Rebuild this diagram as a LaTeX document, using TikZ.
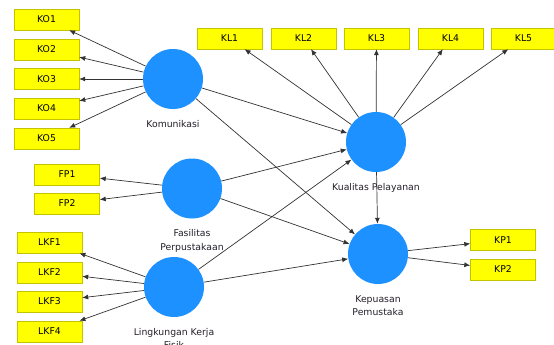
\documentclass[tikz,border=0pt]{standalone}
\usepackage{fontspec}
\setmainfont{DejaVu Sans}
\usetikzlibrary{arrows.meta}

\definecolor{biru}{RGB}{28,145,255}
\definecolor{kuning}{RGB}{255,255,0}
\definecolor{kuningtua}{RGB}{195,195,0}
\definecolor{garis}{RGB}{50,50,50}
\definecolor{teks}{RGB}{35,30,40}

\tikzset{
  laten/.style={circle,fill=biru,minimum size=60pt,inner sep=0pt},
  indikator/.style={rectangle,draw=kuningtua,fill=kuning,minimum width=65pt,
    minimum height=21pt,inner sep=0pt,font=\fontsize{9.3}{11}\selectfont},
  nama/.style={font=\fontsize{9.3}{13.5}\selectfont,align=center,text=teks,
    inner sep=0pt,label distance=11pt},
  panah/.style={draw=garis,line width=0.7pt,-{Latex[length=6pt,width=5pt]}}
}

\begin{document}
\begin{tikzpicture}[x=1pt,y=-1pt]
\useasboundingbox (0,0) rectangle (554,345);

% variabel laten
\node[laten,label={[nama]below:Komunikasi}] (KO) at (173,79) {};
\node[laten,label={[nama]below:{Fasilitas\\Perpustakaan}}] (FP) at (192,188.5) {};
\node[laten,label={[nama]below:{Lingkungan Kerja\\Fisik}}] (LKF) at (174,287) {};
\node[laten,label={[nama]below:Kualitas Pelayanan}] (KL) at (376,142) {};
\node[laten,label={[nama]below:{Kepuasan\\Pemustaka}}] (KP) at (378,254) {};

% indikator
\foreach \i/\y in {1/19.5,2/49.5,3/79,4/108.5,5/138.5}{
  \node[indikator] (KO\i) at (46.5,\y) {KO\i};
  \draw[panah] (KO) -- (KO\i);
}
\foreach \i/\y in {1/174.5,2/203.5}{
  \node[indikator] (FP\i) at (67,\y) {FP\i};
  \draw[panah] (FP) -- (FP\i);
}
\foreach \i/\y in {1/242.5,2/272.5,3/301.5,4/331.5}{
  \node[indikator] (LKF\i) at (49.5,\y) {LKF\i};
  \draw[panah] (LKF) -- (LKF\i);
}
\foreach \i/\x in {1/229.5,2/303.5,3/376.5,4/450.5,5/523.5}{
  \node[indikator] (KL\i) at (\x,38.5) {KL\i};
  \draw[panah] (KL) -- (KL\i);
}
\foreach \i/\y in {1/240,2/269.5}{
  \node[indikator] (KP\i) at (503,\y) {KP\i};
  \draw[panah] (KP) -- (KP\i);
}

% jalur struktural
\draw[panah] (KO) -- (KL);
\draw[panah] (KO) -- (KP);
\draw[panah] (FP) -- (KL);
\draw[panah] (FP) -- (KP);
\draw[panah] (LKF) -- (KL);
\draw[panah] (LKF) -- (KP);
\draw[panah] (KL) -- (KP);
\end{tikzpicture}
\end{document}
